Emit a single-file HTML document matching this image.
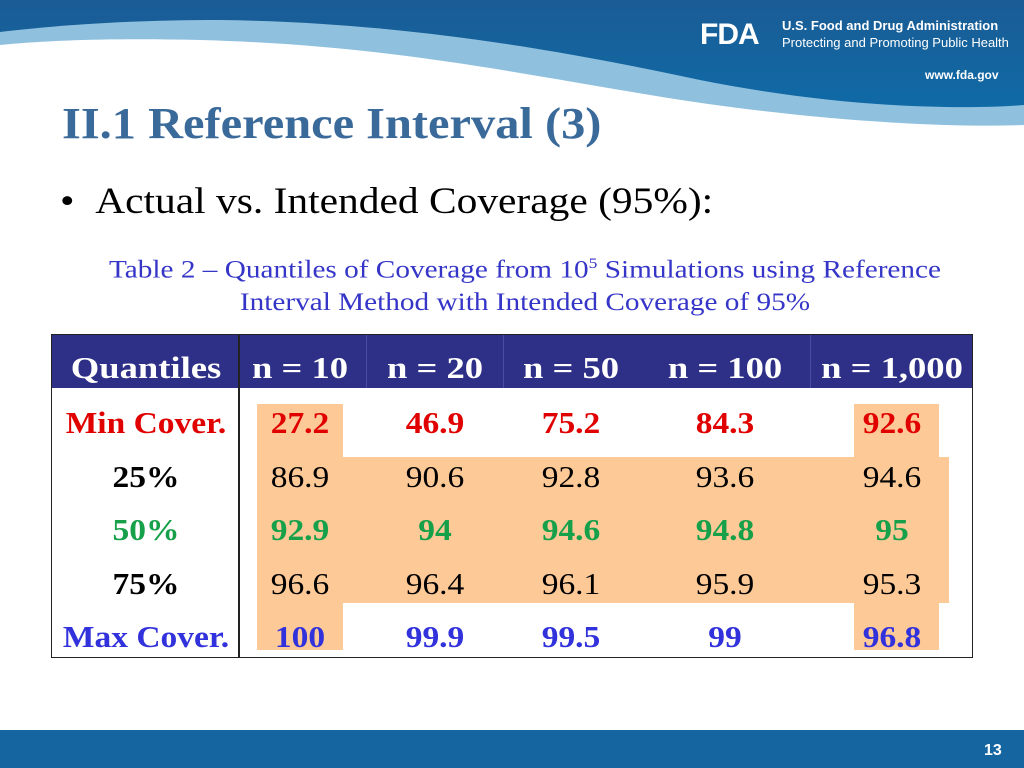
<!DOCTYPE html>
<html><head><meta charset="utf-8"><style>
body{margin:0;width:1024px;height:768px;position:relative;overflow:hidden;background:#fff;font-family:"Liberation Serif",serif}
.a{position:absolute;white-space:nowrap}
.c{position:absolute;transform:translate(-50%,-50%) scaleX(1.08);white-space:nowrap;font-size:31px}
.h{transform:translate(-50%,-50%) scaleX(1.18)}
.b{font-weight:bold}
.o{position:absolute;background:#fdc997}
</style></head><body>
<svg class="a" style="left:0;top:0" width="1024" height="140">
<defs><linearGradient id="g" x1="0" y1="0" x2="0" y2="1"><stop offset="0" stop-color="#1b5c95"/><stop offset="1" stop-color="#0f6aa6"/></linearGradient></defs>
<path d="M0 0H1024V125C940 128 800 120 650 95C500 70 380 45 200 40C120 38 50 40 0 45Z" fill="#8fc0de"/>
<path d="M0 0H1024V105C960 110 840 108 700 80C560 50 400 22 220 20C130 20 60 25 0 32Z" fill="url(#g)"/>
</svg>
<div class="a" style="left:700px;top:18px;color:#fff;font:bold 30px 'Liberation Sans',sans-serif;letter-spacing:-1px">FDA</div>
<div class="a" style="left:782px;top:18px;color:#fff;font:bold 13px 'Liberation Sans',sans-serif">U.S. Food and Drug Administration</div>
<div class="a" style="left:782px;top:35px;color:#fff;font:13px 'Liberation Sans',sans-serif">Protecting and Promoting Public Health</div>
<div class="a" style="left:925px;top:68px;color:#fff;font:bold 12px 'Liberation Sans',sans-serif">www.fda.gov</div>
<div class="a b" style="left:62px;top:98px;font-size:44px;color:#3a6a9a;transform-origin:0 0;transform:scaleX(1.1)">II.1 Reference Interval (3)</div>
<div class="a" style="left:60px;top:180px;font-size:37px;transform-origin:0 0;transform:scaleX(1.12)">•&nbsp;&nbsp;Actual vs. Intended Coverage (95%):</div>
<div class="a" style="left:525px;top:248px;text-align:center;font-size:25px;line-height:33px;color:#3535c8;transform:translateX(-50%) scaleX(1.17)">Table 2 – Quantiles of Coverage from 10<sup style="font-size:15px">5</sup> Simulations using Reference<br>Interval Method with Intended Coverage of 95%</div>
<div class="a" style="left:51px;top:334px;width:920px;height:322px;border:1px solid #222"></div>
<div class="a" style="left:52px;top:335px;width:920px;height:53px;background:#2e3087"></div>
<div class="a" style="left:366px;top:335px;width:1px;height:53px;background:#4a4ca0"></div>
<div class="a" style="left:503px;top:335px;width:1px;height:53px;background:#4a4ca0"></div>
<div class="a" style="left:810px;top:335px;width:1px;height:53px;background:#4a4ca0"></div>
<div class="a" style="left:238px;top:335px;width:2px;height:322px;background:#222"></div>
<div class="o" style="left:257px;top:404px;width:86px;height:246px"></div>
<div class="o" style="left:854px;top:404px;width:85px;height:246px"></div>
<div class="o" style="left:257px;top:457px;width:692px;height:146px"></div>
<div id="cells"></div>
<script>
const headers=["Quantiles","n = 10","n = 20","n = 50","n = 100","n = 1,000"];
const rowLabels=["Min Cover.","25%","50%","75%","Max Cover."];
const rowValues=[["27.2","46.9","75.2","84.3","92.6"],["86.9","90.6","92.8","93.6","94.6"],["92.9","94","94.6","94.8","95"],["96.6","96.4","96.1","95.9","95.3"],["100","99.9","99.5","99","96.8"]];
const colX=[146,300,435,571,725,892];
const rowY=[423,477,530,584,637];
const rowColor=["#e00000","#000","#16a04a","#000","#3232dd"];
const rowBold=[true,false,true,false,true];
const host=document.getElementById('cells');
function mk(t,x,y,color,cls,name){const d=document.createElement('div');d.className='c '+cls;d.style.left=x+'px';d.style.top=y+'px';d.style.color=color;d.textContent=t;


host.appendChild(d);}
headers.forEach((h,i)=>mk(h,colX[i],368,'#fff','b h','header-cell'));
rowLabels.forEach((r,i)=>{mk(r,colX[0],rowY[i],rowColor[i],'b','row-label');
rowValues[i].forEach((v,j)=>mk(v,colX[j+1],rowY[i],rowColor[i],rowBold[i]?'b':'','value-cell'));});
</script>
<div class="a" style="left:0;top:730px;width:1024px;height:38px;background:#1465a0"></div>
<div class="a b" style="left:984px;top:742px;color:#fff;font:bold 16px 'Liberation Sans',sans-serif">13</div>
</body></html>
